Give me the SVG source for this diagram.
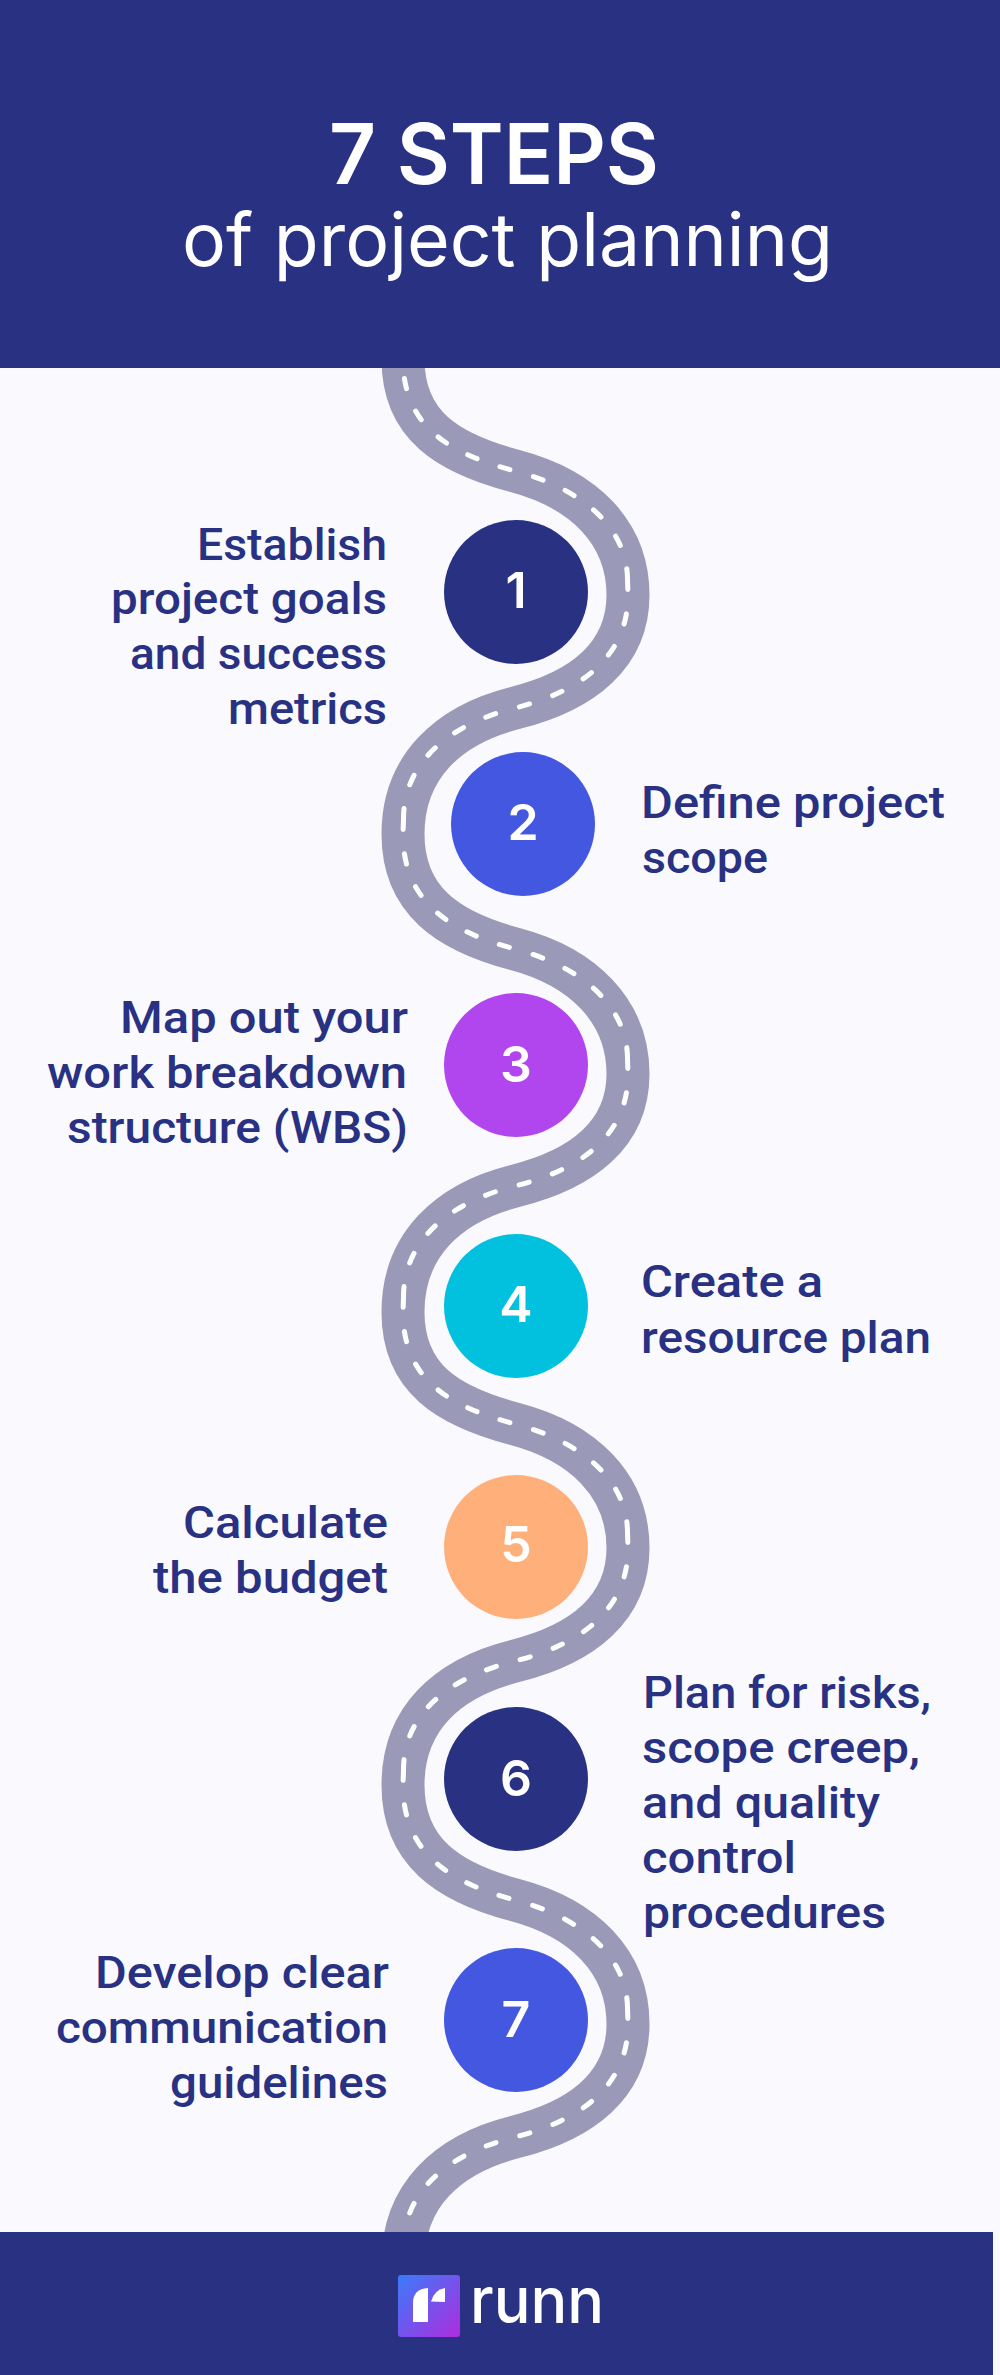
<svg xmlns="http://www.w3.org/2000/svg" width="1000" height="2375" viewBox="0 0 1000 2375">
<style>
.band{fill:#283182}
.road{fill:none;stroke:#9A9AB8;stroke-width:43}
.dash{fill:none;stroke:#fff;stroke-width:5;stroke-linecap:round;stroke-dasharray:10 23.5}
.num{font-family:"Inter","Liberation Sans",sans-serif;font-weight:600;font-size:50px;fill:#fff;text-anchor:middle}
.lab{font-family:"Roboto","Liberation Sans",sans-serif;font-weight:500;font-size:45px;fill:#283182}
.h1{font-family:"Inter","Liberation Sans",sans-serif;font-weight:600;font-size:84px;fill:#fff}
.h2{font-family:"Inter","Liberation Sans",sans-serif;font-weight:400;font-size:74px;fill:#fff}
.logo{font-family:"Inter","Liberation Sans",sans-serif;font-weight:500;font-size:64px;fill:#fff}
</style>
<defs>
<linearGradient id="lg" x1="0" y1="0" x2="1" y2="1"><stop offset="0" stop-color="#3A7BFA"/><stop offset="1" stop-color="#AE2CDE"/></linearGradient>
</defs>
<rect width="1000" height="2375" fill="#F9F9FE"/>
<g id="connectors">
<path class="road" d="M403,320 L403,359 C403,425 447,453 515,471 C583,489 628,532 628,595 C628,655 583,691 515,708 C447,725 403,768 403,834 C403,900 447,931 515,949 C583,967 628,1011 628,1074 C628,1134 583,1169 515,1186 C447,1203 403,1246 403,1312 C403,1378 447,1406 515,1424 C583,1442 628,1485 628,1548 C628,1608 583,1644 515,1661 C447,1678 403,1719 403,1785 C403,1851 447,1882 515,1900 C583,1918 628,1961 628,2024 C628,2084 583,2120 515,2137 C447,2154 403,2196 403,2262"/>
<path class="dash" pathLength="345" d="M403.5,344 L403,359 C403,425 447,453 515,471 C583,489 627,528 627.5,579"/>
<path class="dash" pathLength="345" d="M627.5,579 L628,595 C628,655 583,691 515,708 C447,725 403.5,764 403.5,819"/>
<path class="dash" pathLength="345" d="M403.5,819 L403,834 C403,900 447,931 515,949 C583,967 627,1007 627.5,1058"/>
<path class="dash" pathLength="345" d="M627.5,1058 L628,1074 C628,1134 583,1169 515,1186 C447,1203 403.5,1242 403.5,1297"/>
<path class="dash" pathLength="345" d="M403.5,1297 L403,1312 C403,1378 447,1406 515,1424 C583,1442 627,1481 627.5,1532"/>
<path class="dash" pathLength="345" d="M627.5,1532 L628,1548 C628,1608 583,1644 515,1661 C447,1678 403.5,1715 403.5,1770"/>
<path class="dash" pathLength="345" d="M403.5,1770 L403,1785 C403,1851 447,1882 515,1900 C583,1918 627,1957 627.5,2008"/>
<path class="dash" pathLength="345" d="M627.5,2008 L628,2024 C628,2084 583,2120 515,2137 C447,2154 403.5,2192 403.5,2247"/>
</g>
<g id="header">
<rect class="band" width="1000" height="368"/>
<text class="h1" x="329" y="184" textLength="330" lengthAdjust="spacingAndGlyphs">7 STEPS</text>
<text class="h2" x="182" y="266" textLength="651" lengthAdjust="spacingAndGlyphs">of project planning</text>
</g>
<g id="step1">
<circle cx="516" cy="592" r="72" fill="#283182"/><text class="num" x="516" y="608">1</text>
<text class="lab" x="197" y="560" textLength="190" lengthAdjust="spacingAndGlyphs">Establish</text>
<text class="lab" x="111" y="614" textLength="276" lengthAdjust="spacingAndGlyphs">project goals</text>
<text class="lab" x="130" y="669" textLength="257" lengthAdjust="spacingAndGlyphs">and success</text>
<text class="lab" x="228" y="724" textLength="159" lengthAdjust="spacingAndGlyphs">metrics</text>
</g>
<g id="step2">
<circle cx="523" cy="824" r="72" fill="#4357E0"/><text class="num" x="523" y="840">2</text>
<text class="lab" x="641" y="818" textLength="304" lengthAdjust="spacingAndGlyphs">Define project</text>
<text class="lab" x="642" y="873" textLength="126" lengthAdjust="spacingAndGlyphs">scope</text>
</g>
<g id="step3">
<circle cx="516" cy="1065" r="72" fill="#B146EF"/><text class="num" x="516" y="1082">3</text>
<text class="lab" x="120" y="1033" textLength="288" lengthAdjust="spacingAndGlyphs">Map out your</text>
<text class="lab" x="47" y="1088" textLength="360" lengthAdjust="spacingAndGlyphs">work breakdown</text>
<text class="lab" x="67" y="1143" textLength="341" lengthAdjust="spacingAndGlyphs">structure (WBS)</text>
</g>
<g id="step4">
<circle cx="516" cy="1306" r="72" fill="#02C1DF"/><text class="num" x="516" y="1322">4</text>
<text class="lab" x="641" y="1297" textLength="182" lengthAdjust="spacingAndGlyphs">Create a</text>
<text class="lab" x="641" y="1353" textLength="290" lengthAdjust="spacingAndGlyphs">resource plan</text>
</g>
<g id="step5">
<circle cx="516" cy="1547" r="72" fill="#FFB07A"/><text class="num" x="516" y="1562">5</text>
<text class="lab" x="183" y="1538" textLength="205" lengthAdjust="spacingAndGlyphs">Calculate</text>
<text class="lab" x="153" y="1593" textLength="235" lengthAdjust="spacingAndGlyphs">the budget</text>
</g>
<g id="step6">
<circle cx="516" cy="1779" r="72" fill="#283182"/><text class="num" x="516" y="1796">6</text>
<text class="lab" x="643" y="1708" textLength="288" lengthAdjust="spacingAndGlyphs">Plan for risks,</text>
<text class="lab" x="642" y="1763" textLength="278" lengthAdjust="spacingAndGlyphs">scope creep,</text>
<text class="lab" x="642" y="1818" textLength="238" lengthAdjust="spacingAndGlyphs">and quality</text>
<text class="lab" x="642" y="1873" textLength="154" lengthAdjust="spacingAndGlyphs">control</text>
<text class="lab" x="643" y="1928" textLength="243" lengthAdjust="spacingAndGlyphs">procedures</text>
</g>
<g id="step7">
<circle cx="516" cy="2020" r="72" fill="#4357E0"/><text class="num" x="516" y="2037">7</text>
<text class="lab" x="95" y="1988" textLength="294" lengthAdjust="spacingAndGlyphs">Develop clear</text>
<text class="lab" x="56" y="2043" textLength="332" lengthAdjust="spacingAndGlyphs">communication</text>
<text class="lab" x="170" y="2098" textLength="218" lengthAdjust="spacingAndGlyphs">guidelines</text>
</g>
<g id="footer">
<rect class="band" y="2232" width="993" height="143"/>
<rect x="398" y="2275" width="62" height="62" rx="3" fill="url(#lg)"/>
<path fill="#fff" d="M413,2322 V2303 Q413,2289 428,2288 V2322 Z"/>
<path fill="#fff" d="M431,2301.5 Q434,2290 445,2288 V2302 Z"/>
<text class="logo" x="470" y="2323" textLength="134" lengthAdjust="spacingAndGlyphs">runn</text>
</g>
</svg>
